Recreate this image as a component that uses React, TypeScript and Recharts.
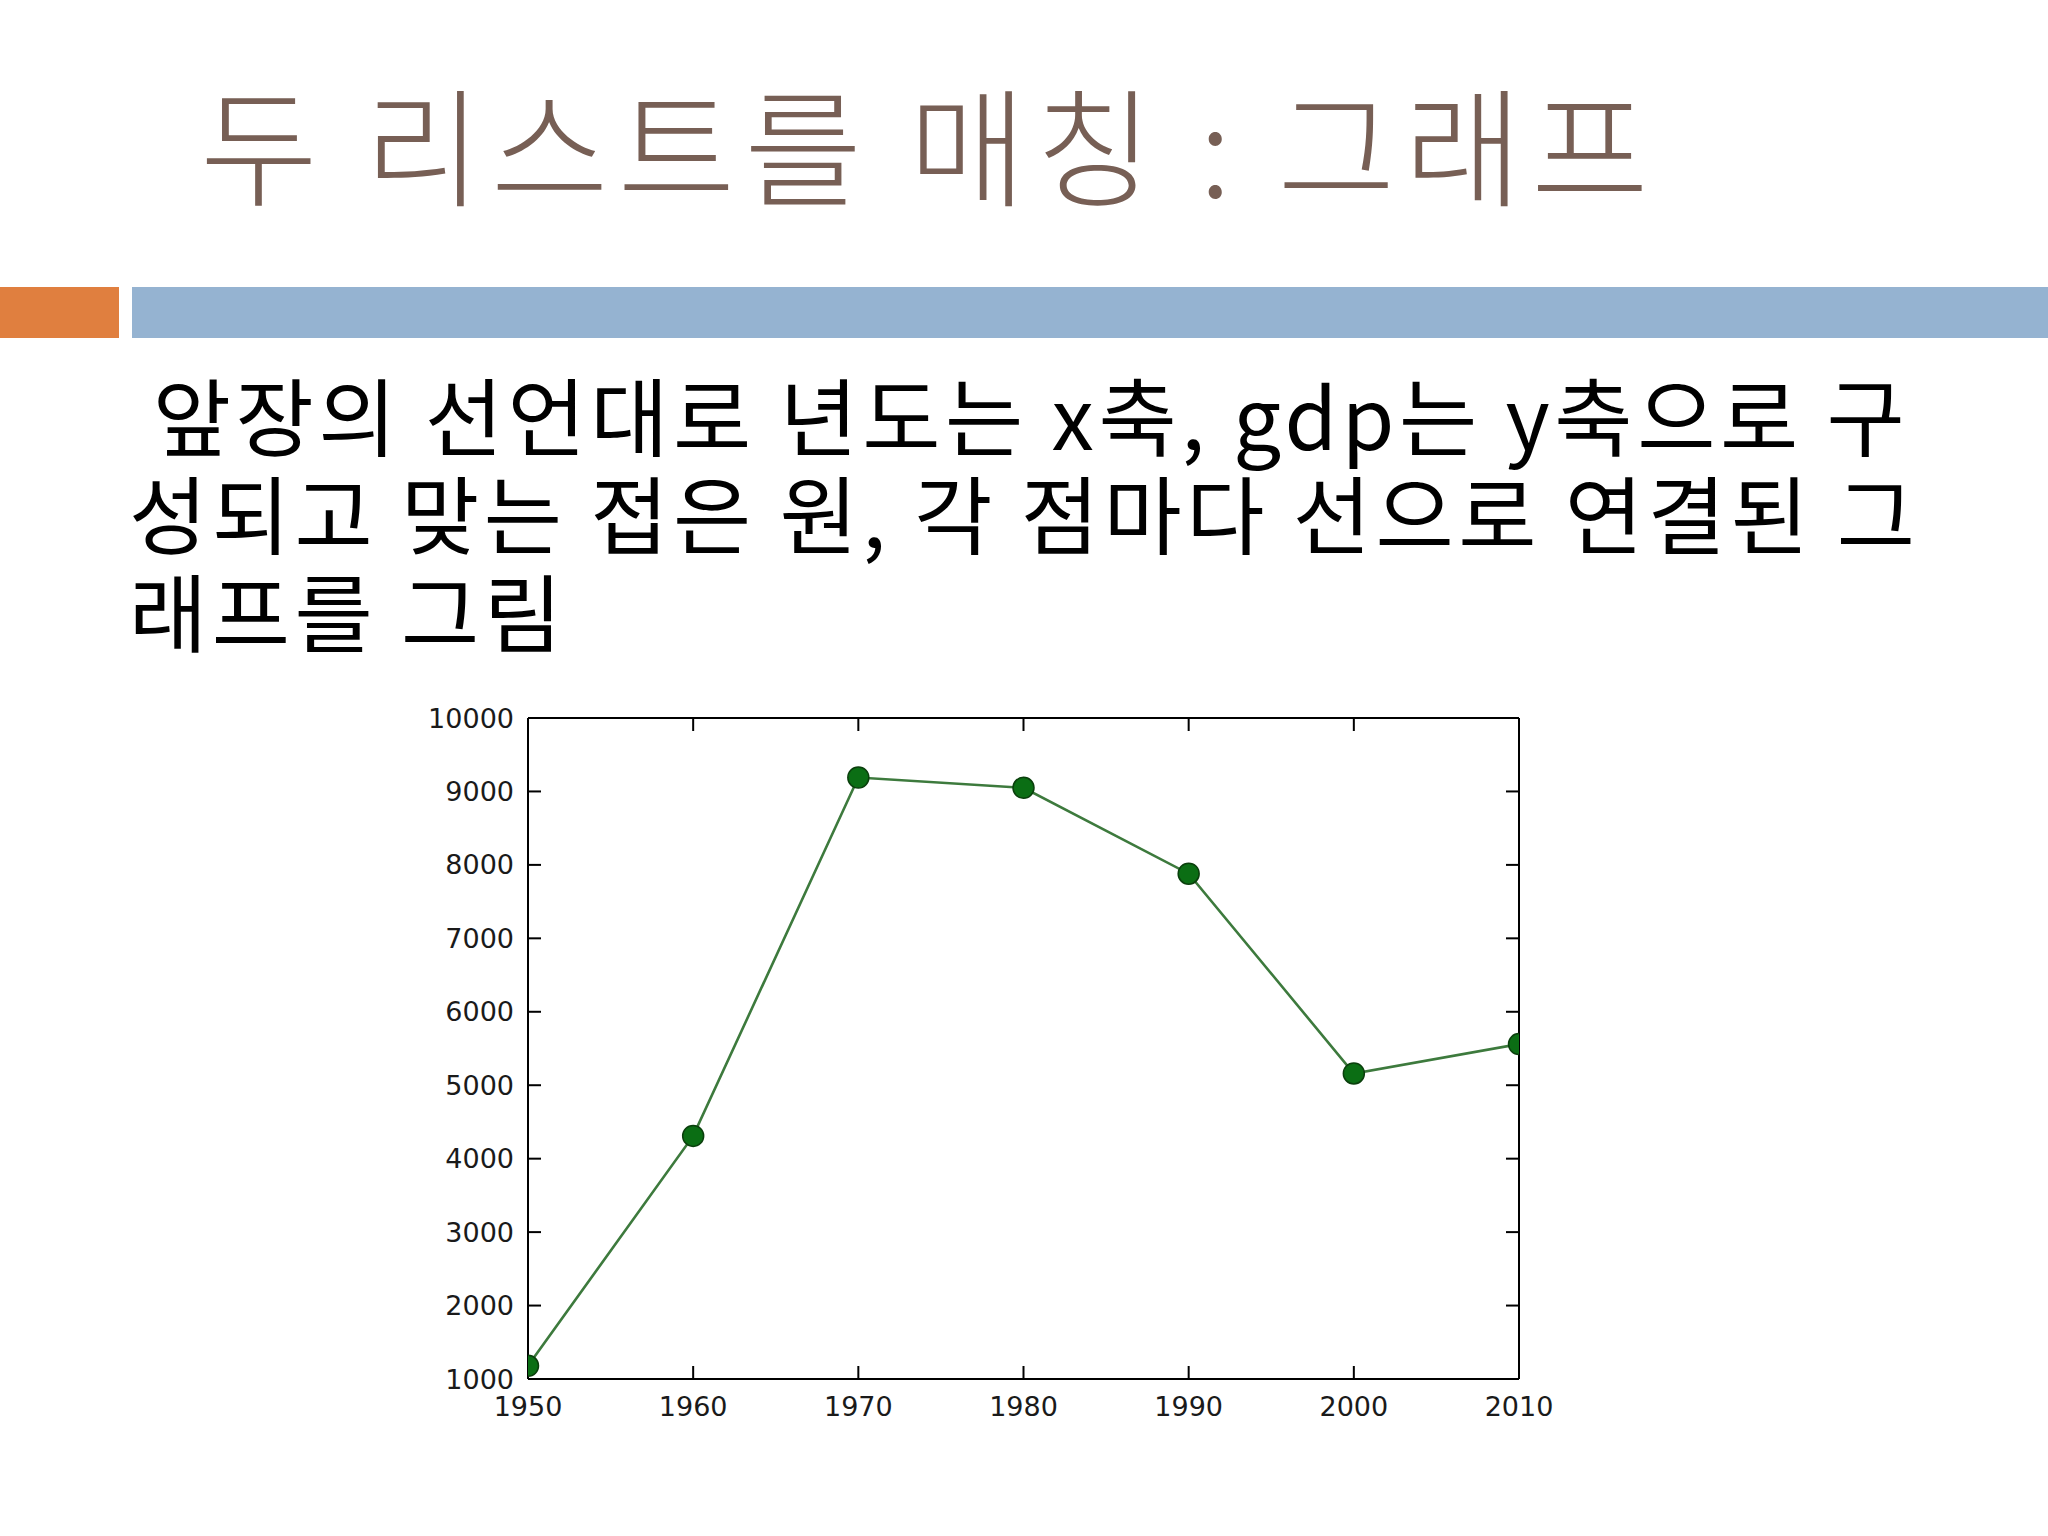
import React from "react";
import { LineChart, Line, XAxis, YAxis } from "recharts";

const years = [1950, 1960, 1970, 1980, 1990, 2000, 2010];
const gdp = [1180, 4310, 9190, 9050, 7880, 5160, 5560];
const yTicks = [1000, 2000, 3000, 4000, 5000, 6000, 7000, 8000, 9000, 10000];

const titleText = "두 리스트를 매칭 : 그래프";
const bodyLines = [
  " 앞장의 선언대로 년도는 x축, gdp는 y축으로 구",
  "성되고 맞는 접은 원, 각 점마다 선으로 연결된 그",
  "래프를 그림",
];

const data = years.map((year, i) => ({ year, gdp: gdp[i] }));

const tickStyle = { fontFamily: "DejaVu Sans", fontSize: 27, fill: "#1a1a1a" };

// mirror axes (top / right) only need the tick marks, no labels
const NoLabel = () => <g />;

export default function App() {
  return (
    <div
      style={{
        position: "absolute",
        left: 0,
        top: 0,
        width: 2048,
        height: 1536,
        background: "#ffffff",
        overflow: "hidden",
      }}
    >
      <div
        style={{
          position: "absolute",
          left: 200,
          top: 78,
          fontFamily: '"Noto Sans CJK KR"',
          fontWeight: 300,
          fontSize: 128,
          lineHeight: 1,
          letterSpacing: 9,
          color: "#775F55",
          whiteSpace: "pre",
        }}
      >
        {titleText}
      </div>

      <div style={{ position: "absolute", left: 0, top: 287, width: 119, height: 51, background: "#E07F3F" }} />
      <div style={{ position: "absolute", left: 132, top: 287, width: 1916, height: 51, background: "#95B3D1" }} />

      {bodyLines.map((line, i) => (
        <div
          key={i}
          style={{
            position: "absolute",
            left: 129,
            top: 370 + i * 98,
            height: 98,
            fontFamily: '"Noto Sans CJK KR"',
            fontSize: 85,
            lineHeight: "98px",
            marginTop: -6,
            letterSpacing: 4.6,
            color: "#000000",
            whiteSpace: "pre",
          }}
        >
          {line}
        </div>
      ))}

      <div style={{ position: "absolute", left: 400, top: 690 }}>
        <LineChart
          width={1200}
          height={760}
          data={data}
          margin={{ top: 27, right: 80, left: 0, bottom: 0 }}
        >
          <XAxis
            dataKey="year"
            type="number"
            domain={[1950, 2010]}
            ticks={years}
            interval={0}
            allowDataOverflow
            height={71}
            stroke="#000000"
            strokeWidth={2}
            tickSize={-13}
            tickMargin={31}
            tick={tickStyle}
          />
          <XAxis
            xAxisId="top"
            orientation="top"
            dataKey="year"
            type="number"
            domain={[1950, 2010]}
            ticks={years}
            interval={0}
            allowDataOverflow
            height={1}
            stroke="#000000"
            strokeWidth={2}
            tickSize={-13}
            tick={<NoLabel />}
            tickLine={{ stroke: "#000000", strokeWidth: 2 }}
          />
          <YAxis
            yAxisId="left"
            type="number"
            domain={[1000, 10000]}
            ticks={yTicks}
            interval={0}
            allowDataOverflow
            width={128}
            stroke="#000000"
            strokeWidth={2}
            tickSize={-13}
            tickMargin={27}
            tick={tickStyle}
            tickLine={{ stroke: "#000000", strokeWidth: 2 }}
          />
          <YAxis
            yAxisId="right"
            orientation="right"
            type="number"
            domain={[1000, 10000]}
            ticks={yTicks}
            interval={0}
            allowDataOverflow
            width={1}
            stroke="#000000"
            strokeWidth={2}
            tickSize={-13}
            tick={<NoLabel />}
            tickLine={{ stroke: "#000000", strokeWidth: 2 }}
          />
          {/* invisible twin so the top / right frame axes get a scale */}
          <Line
            xAxisId="top"
            yAxisId="right"
            type="linear"
            dataKey="gdp"
            stroke="none"
            dot={false}
            activeDot={false}
            legendType="none"
            isAnimationActive={false}
          />
          <Line
            yAxisId="left"
            type="linear"
            dataKey="gdp"
            stroke="#3D7A3D"
            strokeWidth={2.6}
            dot={{ r: 10.5, fill: "#0B6E14", stroke: "#0A3F0C", strokeWidth: 1.5 }}
            activeDot={false}
            isAnimationActive={false}
          />
        </LineChart>
      </div>
    </div>
  );
}
